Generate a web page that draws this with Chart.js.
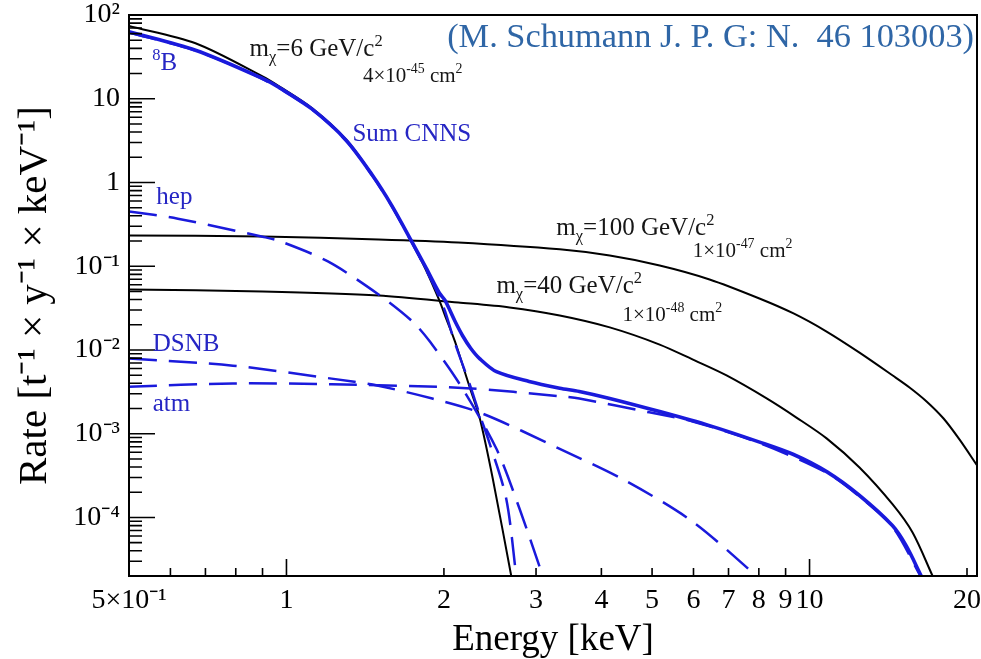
<!DOCTYPE html>
<html>
<head>
<meta charset="utf-8">
<script src="https://cdn.jsdelivr.net/npm/chart.js@4.4.1/dist/chart.umd.min.js"></script>
<style>
  html, body { margin: 0; padding: 0; background: #fff; }
</style>
</head>
<body>
<canvas id="myChart" width="981" height="659"></canvas>
<script>
// axis ticks
var xTicks = [0.5, 1, 2, 3, 4, 5, 6, 7, 8, 9, 10, 20];
var xTickLabels = ['5×10⁻¹', '1', '2', '3', '4', '5', '6', '7', '8', '9', '10', '20'];
var yTicks = [1e-4, 1e-3, 1e-2, 0.1, 1, 10, 100];
var yTickLabels = ['10⁻⁴', '10⁻³', '10⁻²', '10⁻¹', '1', '10', '10²'];

// energy [keV] / rate [1/(t y keV)]
var wimp6E = [0.5, 0.67, 0.9, 0.97, 1.12, 1.3, 1.46, 1.59, 1.73, 1.85, 1.96, 2.02, 2.1, 2.24, 2.34, 2.48, 2.69];
var wimp6R = [74, 46, 18.5, 14, 7.7, 3.26, 1.23, 0.53, 0.203, 0.089, 0.039, 0.0237, 0.0126, 3.6e-3, 1.56e-3, 2.9e-4, 2e-5];

var wimp100E = [0.5, 0.9, 1.5, 2.13, 3.33, 4.15, 5.17, 6.44, 8.02, 9.32, 10.78, 12.46, 14.42, 15.53, 16.74, 18.04, 19.36, 20.9];
var wimp100R = [0.233, 0.227, 0.209, 0.192, 0.159, 0.134, 0.102, 0.0695, 0.0412, 0.0273, 0.0166, 9.3e-3, 4.96e-3, 3.57e-3, 2.43e-3, 1.52e-3, 8.5e-4, 4.2e-4];

var wimp40E = [0.5, 0.9, 1.5, 2.13, 2.67, 3.33, 4.15, 5.17, 6.03, 6.94, 8.28, 9.44, 10.78, 12.46, 14.42, 15.74, 17.19];
var wimp40R = [0.0528, 0.0499, 0.0448, 0.0369, 0.0322, 0.0258, 0.0186, 0.0116, 7.5e-3, 4.96e-3, 2.64e-3, 1.56e-3, 8.8e-4, 3.95e-4, 1.43e-4, 6.6e-5, 2e-5];

var b8E = [0.5, 0.67, 0.9, 1.12, 1.3, 1.46, 1.59, 1.73, 1.85, 1.96, 2.01, 2.1, 2.24, 2.34, 2.44, 2.63, 2.75];
var b8R = [62, 37.5, 17.2, 7.4, 3.15, 1.2, 0.52, 0.2, 0.09, 0.043, 0.029, 0.012, 3.9e-3, 1.7e-3, 8e-4, 1.7e-4, 2e-5];

var hepE = [0.5, 0.62, 0.9, 0.97, 1.2, 1.5, 1.74, 1.88, 2.15, 2.52, 2.79, 3.09];
var hepR = [0.45, 0.37, 0.225, 0.2, 0.114, 0.046, 0.022, 0.0126, 3.8e-3, 6.6e-4, 1.27e-4, 2e-5];

var dsnbE = [0.5, 0.79, 1.22, 1.49, 1.9, 2.37, 3.33, 4.47, 5.98, 7.92];
var dsnbR = [7.9e-3, 6.5e-3, 4.55e-3, 3.76e-3, 2.63e-3, 1.74e-3, 6.6e-4, 2.7e-4, 8.9e-5, 2e-5];

var atmE = [0.5, 0.79, 1.22, 2.21, 3.33, 3.63, 4.94, 5.98, 8.0, 10.8, 12.46, 14.4, 16.3];
var atmR = [3.65e-3, 3.98e-3, 3.9e-3, 3.5e-3, 2.8e-3, 2.63e-3, 1.8e-3, 1.4e-3, 7.8e-4, 3.4e-4, 1.78e-4, 7.8e-5, 2e-5];

var sumE = [0.5, 0.67, 0.9, 0.97, 1.12, 1.3, 1.46, 1.59, 1.73, 1.85, 1.96, 2.01, 2.1, 2.17, 2.25, 2.34, 2.52, 2.91, 3.33, 3.63, 4.15, 5.17, 6.44, 8.0, 9.32, 10.8, 12.46, 14.4, 15.3, 16.35];
var sumR = [63, 38, 17.5, 13.5, 7.5, 3.2, 1.22, 0.53, 0.205, 0.095, 0.048, 0.039, 0.022, 0.0149, 0.0105, 7.9e-3, 5.5e-3, 4.2e-3, 3.5e-3, 3.2e-3, 2.64e-3, 1.84e-3, 1.25e-3, 8.0e-4, 5.65e-4, 3.5e-4, 1.83e-4, 8.0e-5, 4.6e-5, 2.0e-5];

var BLUE = '#1a1adc';
var TXTBLUE = '#2626c4';
var INK = '#161616';
var SERIF = '"Liberation Serif", "Times New Roman", serif';

// text on the plot, anchored at (energy, rate) of its left baseline
var notes = [
    { e: 0.85, r: 32, color: INK, size: 25, parts: [['m'], ['χ', 'sub'], ['=6 GeV/c'], ['2', 'sup']] },
    { e: 1.40, r: 16, color: INK, size: 21, parts: [['4×10'], ['-45', 'sup'], [' cm'], ['2', 'sup']] },
    { e: 0.554, r: 21.8, color: TXTBLUE, size: 25, parts: [['8', 'sup'], ['B']] },
    { e: 1.337, r: 3.09, color: TXTBLUE, size: 25, parts: [['Sum CNNS']] },
    { e: 0.564, r: 0.561, color: TXTBLUE, size: 25, parts: [['hep']] },
    { e: 0.555, r: 9.6e-3, color: TXTBLUE, size: 25, parts: [['DSNB']] },
    { e: 0.555, r: 1.88e-3, color: TXTBLUE, size: 25, parts: [['atm']] },
    { e: 3.28, r: 0.233, color: INK, size: 25, parts: [['m'], ['χ', 'sub'], ['=100 GeV/c'], ['2', 'sup']] },
    { e: 5.98, r: 0.13, color: INK, size: 21, parts: [['1×10'], ['-47', 'sup'], [' cm'], ['2', 'sup']] },
    { e: 2.52, r: 0.0473, color: INK, size: 25, parts: [['m'], ['χ', 'sub'], ['=40 GeV/c'], ['2', 'sup']] },
    { e: 4.39, r: 0.0224, color: INK, size: 21, parts: [['1×10'], ['-48', 'sup'], [' cm'], ['2', 'sup']] }
];
var citation = '(M. Schumann J. P. G: N.  46 103003)';

function curve(label, es, rs, color, width, dash) {
    return {
        label: label,
        data: es.map(function (e, i) { return { x: e, y: rs[i] }; }),
        borderColor: color,
        backgroundColor: color,
        borderWidth: width,
        borderDash: dash || [],
        pointRadius: 0,
        showLine: true,
        fill: false,
        tension: 0.3
    };
}

function richText(ctx, x, y, parts, size, color) {
    ctx.fillStyle = color;
    ctx.textAlign = 'left';
    ctx.textBaseline = 'alphabetic';
    parts.forEach(function (p) {
        var s = p[1] ? size * 0.66 : size;
        var dy = p[1] === 'sup' ? -size * 0.42 : (p[1] === 'sub' ? size * 0.24 : 0);
        ctx.font = s + 'px ' + SERIF;
        ctx.fillText(p[0], x, y + dy);
        x += ctx.measureText(p[0]).width;
    });
}

function noPad(s) {
    s.paddingLeft = 0;
    s.paddingRight = 0;
    s.paddingTop = 0;
    s.paddingBottom = 0;
}

// frame, inward ticks (ROOT style), labels and the reference line
var decorate = {
    id: 'decorate',
    afterDatasetsDraw: function (chart) {
        var a = chart.chartArea, ctx = chart.ctx;
        var xs = chart.scales.x, ys = chart.scales.y;
        ctx.save();
        ctx.strokeStyle = '#000';
        ctx.lineWidth = 2;
        ctx.strokeRect(a.left, a.top, a.right - a.left, a.bottom - a.top);

        ctx.lineWidth = 1.6;
        ctx.beginPath();
        for (var d = -5; d <= 2; d++) {
            for (var k = 1; k <= 9; k++) {
                var v = k * Math.pow(10, d);
                if (v < ys.min * 0.999 || v > ys.max * 1.001) continue;
                var py = ys.getPixelForValue(v);
                ctx.moveTo(a.left, py);
                ctx.lineTo(a.left + (k === 1 ? 26 : 13), py);
            }
        }
        for (d = -1; d <= 1; d++) {
            for (k = 1; k <= 9; k++) {
                v = k * Math.pow(10, d);
                if (v <= xs.min * 1.001 || v > xs.max) continue;
                var px = xs.getPixelForValue(v);
                ctx.moveTo(px, a.bottom);
                ctx.lineTo(px, a.bottom - (k === 1 ? 17 : 8));
            }
        }
        ctx.stroke();

        notes.forEach(function (n) {
            richText(ctx, xs.getPixelForValue(n.e), ys.getPixelForValue(n.r), n.parts, n.size, n.color);
        });

        ctx.font = '33px ' + SERIF;
        var w = ctx.measureText(citation).width;
        var fs = 33 * 527 / w;
        ctx.font = fs + 'px ' + SERIF;
        ctx.fillStyle = '#2f66a6';
        ctx.textAlign = 'right';
        ctx.textBaseline = 'alphabetic';
        ctx.fillText(citation, a.right - 3, a.top + 32);
        ctx.restore();
    }
};

Chart.defaults.font.family = SERIF;
Chart.defaults.color = '#000';

var ctx = document.getElementById('myChart').getContext('2d');
var myChart = new Chart(ctx, {
    type: 'scatter',
    data: {
        datasets: [
            curve('8B', b8E, b8R, BLUE, 2.5, [28, 12]),
            curve('hep', hepE, hepR, BLUE, 2.5, [28, 12]),
            curve('DSNB', dsnbE, dsnbR, BLUE, 2.5, [28, 12]),
            curve('atm', atmE, atmR, BLUE, 2.5, [28, 12]),
            curve('Sum CNNS', sumE, sumR, BLUE, 3.6),
            curve('6 GeV', wimp6E, wimp6R, '#000', 2),
            curve('40 GeV', wimp40E, wimp40R, '#000', 2),
            curve('100 GeV', wimp100E, wimp100R, '#000', 2)
        ]
    },
    options: {
        responsive: false,
        animation: false,
        layout: { padding: { top: 15, right: 4, left: 0, bottom: 0 } },
        plugins: {
            legend: { display: false },
            tooltip: { enabled: false }
        },
        scales: {
            x: {
                type: 'logarithmic',
                min: 0.5,
                max: 20.9,
                grid: { display: false, drawTicks: false },
                border: { display: false },
                afterBuildTicks: function (s) {
                    s.ticks = xTicks.map(function (v) { return { value: v }; });
                },
                afterFit: function (s) { s.height = 83; noPad(s); },
                ticks: {
                    autoSkip: false,
                    maxRotation: 0,
                    minRotation: 0,
                    padding: 8,
                    font: { size: 28 },
                    callback: function (v) { return xTickLabels[xTicks.indexOf(v)]; }
                },
                title: {
                    display: true,
                    text: 'Energy [keV]',
                    font: { size: 37, lineHeight: 1 },
                    padding: { top: 0, bottom: 0 }
                }
            },
            y: {
                type: 'logarithmic',
                min: 2e-5,
                max: 100,
                grid: { display: false, drawTicks: false },
                border: { display: false },
                afterBuildTicks: function (s) {
                    s.ticks = yTicks.map(function (v) { return { value: v }; });
                },
                afterFit: function (s) { s.width = 129; noPad(s); },
                ticks: {
                    padding: 9,
                    font: { size: 28 },
                    callback: function (v) { return yTickLabels[yTicks.indexOf(v)]; }
                },
                title: {
                    display: true,
                    text: 'Rate [t⁻¹ × y⁻¹ × keV⁻¹]',
                    font: { size: 41, lineHeight: 1 },
                    padding: { top: 15, bottom: 0 }
                }
            }
        }
    },
    plugins: [decorate]
});
</script>
</body>
</html>
